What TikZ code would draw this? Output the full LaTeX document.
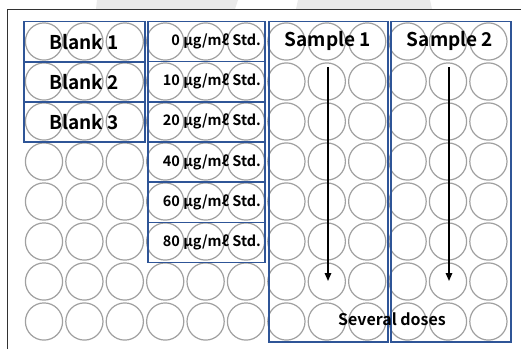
\documentclass[tikz,border=0pt]{standalone}
\usepackage{fontspec}
\setmainfont{Noto Sans CJK KR}[BoldFont={Noto Sans CJK KR Bold}]
\usetikzlibrary{arrows.meta}
\definecolor{wellgray}{RGB}{160,160,160}
\definecolor{boxblue}{RGB}{47,85,151}
\definecolor{wmgray}{RGB}{234,234,234}
\definecolor{framegray}{RGB}{50,50,50}
\tikzset{
  well/.style={draw=wellgray, line width=1.2pt},
  bluebox/.style={draw=boxblue, line width=1.6pt, inner sep=0pt},
  bigtxt/.style={font=\bfseries\fontsize{19}{19}\selectfont, inner sep=0pt},
  stdtxt/.style={font=\bfseries\fontsize{14.5}{15}\selectfont, inner sep=0pt, anchor=east},
  dosetxt/.style={font=\bfseries\fontsize{16}{16}\selectfont, inner sep=0pt},
  dosearrow/.style={line width=1.5pt, -{Triangle[length=8pt,width=6.5pt]}}
}
\begin{document}
\begin{tikzpicture}[x=1pt,y=-1pt]
\useasboundingbox (0,0) rectangle (521,349);
\fill[white] (0,0) rectangle (521,349);
% watermark fragments
\fill[wmgray] (97,0) -- (238,0) -- (235,9) -- (96,9) -- cycle;
\fill[wmgray] (298,0) -- (430,0) -- (432,9) -- (296,9) -- cycle;
% frame
\draw[framegray, line width=1pt] (7,349) -- (7,9) -- (521,9);
% wells
\foreach \i in {0,...,11} {
  \foreach \j in {0,...,7} {
    \draw[well] ({44+40.4*\i},{41.5+40*\j}) circle[radius=18.6pt];
  }
}
% blank boxes
\node[bluebox, minimum width=121pt, minimum height=40.5pt, anchor=north west] (bl1) at (23,20.5) {};
\node[bluebox, minimum width=121pt, minimum height=40pt, anchor=north west] (bl2) at (23,61) {};
\node[bluebox, minimum width=121pt, minimum height=40pt, anchor=north west] (bl3) at (23,101) {};
\node[bigtxt] (tb1) at (bl1.center) {Blank 1};
\node[bigtxt] (tb2) at (bl2.center) {Blank 2};
\node[bigtxt] (tb3) at (bl3.center) {Blank 3};
% std boxes
\foreach \k/\c in {0/0,1/10,2/20,3/40,4/60,5/80} {
  \node[bluebox, minimum width=117pt, minimum height=40.2pt, anchor=north west] (std\k) at (147,{20.5+40.2*\k}) {};
  \node[stdtxt] (tstd\k) at ([xshift=-4.5pt]std\k.east) {\c{} μg/mℓ Std.};
}
% sample boxes
\node[bluebox, minimum width=119pt, minimum height=320.5pt, anchor=north west] (s1) at (268,20.5) {};
\node[bluebox, minimum width=120pt, minimum height=320.5pt, anchor=north west] (s2) at (390,20.5) {};
\node[bigtxt] (ts1) at (328,41) {Sample 1};
\node[bigtxt] (ts2) at (450,41) {Sample 2};
% arrows
\coordinate (a1s) at (328,67);
\coordinate (a1e) at (328,281);
\coordinate (a2s) at (449,67);
\coordinate (a2e) at (449,281);
\draw[dosearrow] (a1s) -- (a1e);
\draw[dosearrow] (a2s) -- (a2e);
\node[dosetxt] (sd) at (392,319) {Several doses};
\end{tikzpicture}
\end{document}
